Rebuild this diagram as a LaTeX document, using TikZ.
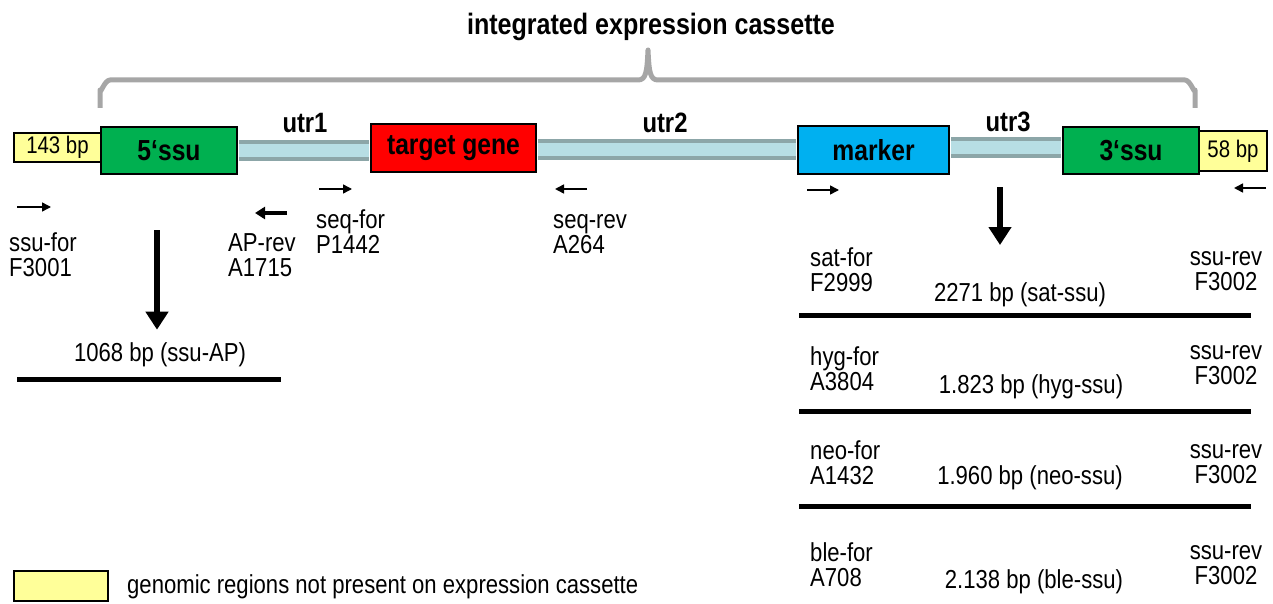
\documentclass[tikz,border=0pt]{standalone}
\usepackage{fontspec}
\setmainfont{Liberation Sans}[FakeStretch=0.85]
\usepackage{xcolor}
\definecolor{flankyellow}{RGB}{255,255,153}
\definecolor{ssugreen}{RGB}{0,176,80}
\definecolor{genered}{RGB}{255,0,0}
\definecolor{markerblue}{RGB}{0,176,240}
\definecolor{utrfill}{RGB}{183,222,228}
\definecolor{utredge}{RGB}{140,166,168}
\definecolor{bracegray}{RGB}{166,166,166}
\usepackage{tikz}
\usetikzlibrary{arrows.meta, positioning, calc}
\tikzset{
  gene/.style={draw=black, line width=2pt, minimum height=47pt, inner sep=0pt, font=\fontsize{29}{29}\selectfont\bfseries},
  flank/.style={draw=black, line width=2pt, fill=flankyellow, inner sep=0pt, font=\fontsize{24}{24}\selectfont},
  utr/.style={draw=utredge, line width=4pt, double=utrfill, double distance=13pt, shorten <=1pt, shorten >=1pt},
  utrlbl/.style={font=\fontsize{28}{28}\selectfont\bfseries, inner sep=0pt},
  primer/.style={line width=1.5pt, -{Triangle[length=9pt, width=9pt]}},
  lbl/.style={font=\fontsize{26}{25}\selectfont, align=left, inner sep=0pt},
  pcr/.style={line width=6pt, -{Triangle[length=18pt, width=22pt]}},
  band/.style={line width=5pt},
}

\begin{document}
\begin{tikzpicture}[x=1pt, y=-1pt]
  \useasboundingbox (0,0) rectangle (1273,604);

  % Title and brace
  \node[font=\fontsize{29.5}{29.5}\selectfont\bfseries, inner sep=0pt] (title) at (651,27) {integrated expression cassette};
  \draw[bracegray, line width=5pt, line join=round] (100,108) -- (100,90) to[out=-90,in=180] (110,80) -- (638,80)
    .. controls (646,80) and (647,72) .. (648,50) .. controls (649,72) and (650,80) .. (658,80)
    -- (1185,80) to[out=0,in=-90] (1195,90) -- (1195,108);

  % Cassette row
  \node[flank, minimum width=87pt, minimum height=29pt] (flankL) at (57.5,147.5) {143 bp};
  \node[gene, fill=ssugreen, minimum width=136pt] (ssu5) at (169,150.5) {5‘ssu};
  \node[gene, fill=genered, minimum width=165pt, minimum height=48pt] (target) at (453.5,148) {target gene};
  \node[gene, fill=markerblue, minimum width=151pt, minimum height=48pt] (marker) at (873.5,150) {marker};
  \node[gene, fill=ssugreen, minimum width=136pt] (ssu3) at (1131,150.5) {3‘ssu};
  \node[flank, minimum width=68pt, minimum height=40pt] (flankR) at (1233,151) {58 bp};

  % UTR bars between the boxes
  \draw[utr] (ssu5.east) -- (target.west |- ssu5.east);
  \draw[utr] (target.east |- marker.west) -- (marker.west);
  \draw[utr] ([yshift=2pt]marker.east) -- ([yshift=2pt]ssu3.west |- marker.east);
  \node[utrlbl] (utr1) at (305,123) {utr1};
  \node[utrlbl] (utr2) at (665,123) {utr2};
  \node[utrlbl] (utr3) at (1008,122) {utr3};

  % Primer arrows
  \foreach \pname/\xa/\xb/\y in {ssufor/17/51/207, seqfor/319/352/189, seqrev/587/555/189, satfor/807/839/190, ssurev/1266/1234/188} {
    \coordinate (\pname a) at (\xa,\y);
    \coordinate (\pname b) at (\xb,\y);
    \draw[primer] (\pname a) -- (\pname b);
  }
  \coordinate (apreva) at (287,213);
  \coordinate (aprevb) at (255,213);
  \draw[primer, line width=3.5pt, -{Triangle[length=10pt, width=12pt]}] (apreva) -- (aprevb);

  % Primer labels
  \node[lbl, anchor=west] (ssuforlbl) at (9,255) {ssu-for\\F3001};
  \node[lbl, anchor=west] (apreflbl) at (228,255) {AP-rev\\A1715};
  \node[lbl, anchor=west] (seqforlbl) at (316,232) {seq-for\\P1442};
  \node[lbl, anchor=west] (seqrevlbl) at (553,234) {seq-rev\\A264};

  % Left PCR product
  \node[lbl] (ssuap) at (160,355) {1068 bp (ssu-AP)};
  \coordinate (pcrL) at (157,230);
  \draw[pcr] (pcrL) -- ([yshift=13pt]ssuap.north -| pcrL);
  \draw[band] (17,379) -- (281,379);

  % Right PCR products
  \coordinate (pcrRa) at (1000,187);
  \coordinate (pcrRb) at (1000,245);
  \draw[pcr] (pcrRa) -- (pcrRb);
  \foreach \fw/\yf/\bp/\xb/\yb/\yr [count=\i] in {
      sat-for\\F2999/270/2271 bp (sat-ssu)/1020/295/271,
      hyg-for\\A3804/369/1.823 bp (hyg-ssu)/1031/387/365,
      neo-for\\A1432/463/1.960 bp (neo-ssu)/1030/478/464,
      ble-for\\A708/565/2.138 bp (ble-ssu)/1034/582/565} {
    \node[lbl, anchor=west] (fwd\i) at (810,\yf) {\fw};
    \node[lbl] (prod\i) at (\xb,\yb) {\bp};
    \node[lbl, align=center] (rev\i) at (1226,\yr) {ssu-rev\\F3002};
  }
  \foreach \y in {315, 411, 506}
    \draw[band] (799,\y) -- (1251,\y);

  % Legend
  \node[flank, minimum width=94pt, minimum height=30pt] (legbox) at (61,586) {};
  \node[lbl, anchor=west, font=\fontsize{26}{26}\selectfont] (legtxt) at (127,587) {genomic regions not present on expression cassette};
\end{tikzpicture}
\end{document}
